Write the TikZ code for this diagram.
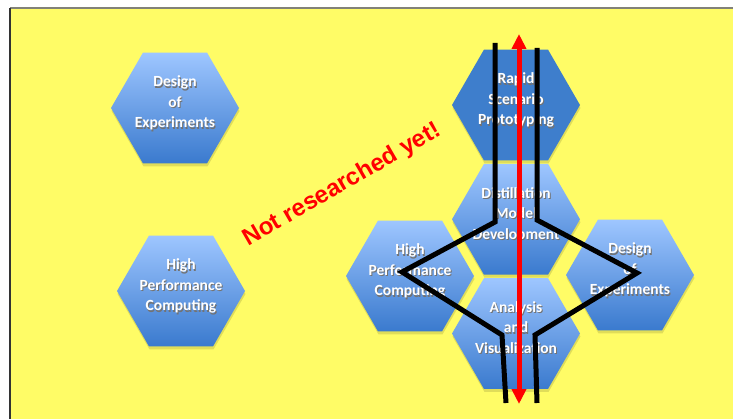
\documentclass[tikz,border=0pt]{standalone}
\usepackage{fontspec}
\setmainfont{Carlito}
\newfontfamily\arialfont{Liberation Sans}
\usetikzlibrary{shapes.geometric, arrows.meta, positioning, shadows}
\definecolor{bgyellow}{RGB}{255, 252, 102}
\definecolor{hextop}{RGB}{158, 198, 255}
\definecolor{hexbot}{RGB}{58, 122, 206}
\definecolor{hexdark}{RGB}{62, 126, 204}
\definecolor{frameline}{RGB}{130, 130, 120}
\newcommand{\shd}[1]{\makebox[0pt]{\kern2pt\raisebox{-1.2pt}{\textcolor{black!55}{#1}}}\makebox[0pt]{#1}}
\tikzset{
  hexbase/.style={regular polygon, regular polygon sides=6, minimum size=128pt, inner sep=0pt, draw=none,
    drop shadow={shadow xshift=0.5pt, shadow yshift=-3pt, fill=black, opacity=0.12},
    text=white, font=\fontsize{15.5}{20.5}\selectfont\bfseries, align=center, text depth=12pt},
  hexnode/.style={hexbase, top color=hextop, bottom color=hexbot},
  darkhex/.style={hexbase, fill=hexdark},
  route/.style={line width=5pt, black, line join=miter},
  flowarrow/.style={{Triangle[length=15pt,width=14pt]}-{Triangle[length=15pt,width=14pt]}, line width=5pt, red},
}
\begin{document}
\begin{tikzpicture}[x=1pt, y=-1pt]
  \useasboundingbox (0,0) rectangle (733,419);
  % background panel
  \fill[bgyellow] (10,8) rectangle (733,419);
  \draw[frameline, line width=2pt] (10,8) -- (733,8);
  \draw[black!80, line width=1.2pt] (10,8) -- (10,419);
  % separate hexagons
  \node[hexnode] (doeL) at (175,108) {\shd{Design}\\\shd{of}\\\shd{Experiments}};
  \node[hexnode] (hpcL) at (181,291) {\shd{High}\\\shd{Performance}\\\shd{Computing}};
  % cluster
  \node[darkhex] (rsp) at (516,105) {\shd{Rapid}\\\shd{Scenario}\\\shd{Prototyping}};
  \node[hexnode, below=3pt of rsp] (dmd) {\shd{Distillation}\\\shd{Model}\\\shd{Development}};
  \node[hexnode, below=3pt of dmd] (ava) {\shd{Analysis}\\\shd{and}\\\shd{Visualization}};
  \node[hexnode] (hpcR) at (410,276) {\shd{High}\\\shd{Performance}\\\shd{Computing}};
  \node[hexnode] (doeR) at (630,275) {\shd{Design}\\\shd{of}\\\shd{Experiments}};
  % label
  \node[red, rotate=30, font=\arialfont\bfseries\fontsize{24}{28}\selectfont] (nry) at (342,185) {Not researched yet!};
  % routes through the cluster
  \coordinate (lin) at (495,43);
  \coordinate (lout) at (506,403);
  \coordinate (rin) at (537,48);
  \coordinate (rout) at (537,403);
  \draw[route] (lin) -- (495,222) -- (402,272) -- (502,335) -- (lout);
  \draw[route] (rin) -- (537,220) -- (637,273) -- (535,335) -- (rout);
  \coordinate (atop) at (519,34);
  \coordinate (abot) at (519,404);
  \draw[flowarrow] (abot) -- (atop);
\end{tikzpicture}
\end{document}
